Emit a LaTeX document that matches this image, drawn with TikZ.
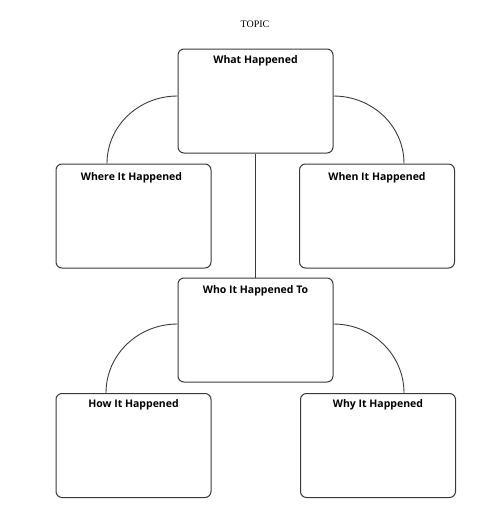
\documentclass[tikz,border=0pt]{standalone}
\usepackage{fontspec}
\setmainfont{Liberation Serif}
\newfontfamily\titlefont{Open Sans}
\definecolor{linegray}{HTML}{3A3A3A}
\begin{document}
\begin{tikzpicture}[x=1pt,y=-1pt,
  box/.style={draw=linegray,line width=1pt,rounded corners=6pt,
    minimum width=155pt,minimum height=104pt,inner sep=0pt},
  boxtitle/.style={font=\titlefont\bfseries\fontsize{10.5}{12}\selectfont,
    text=black,inner sep=0pt,anchor=base},
  conn/.style={draw=linegray,line width=0.9pt}]
\useasboundingbox (0,0) rectangle (503,520);
\node[font=\fontsize{10}{12}\selectfont,inner sep=0pt] (topic) at (255,24) {TOPIC};
\node[box] (what)  at (255.5,101) {};
\node[box] (where) at (133.5,216) {};
\node[box] (when)  at (377,216) {};
\node[box] (who)   at (255.5,330) {};
\node[box] (how)   at (133.5,445.5) {};
\node[box] (why)   at (378,445.5) {};
\node[boxtitle] (whatT)  at ([yshift=-15pt]what.north)  {What Happened};
\node[boxtitle] (whereT) at ([yshift=-17pt,xshift=-2pt]where.north) {Where It Happened};
\node[boxtitle] (whenT)  at ([yshift=-17pt]when.north)  {When It Happened};
\node[boxtitle] (whoT)   at ([yshift=-16pt]who.north)   {Who It Happened To};
\node[boxtitle] (howT)   at ([yshift=-14pt]how.north)   {How It Happened};
\node[boxtitle] (whyT)   at ([yshift=-14pt]why.north)   {Why It Happened};
\draw[conn] ([yshift=5pt]what.west) to[out=180,in=90] ([xshift=-26.5pt]where.north);
\draw[conn] ([yshift=5pt]what.east) to[out=0,in=90] ([xshift=27pt]when.north);
\draw[conn] (what.south) -- (who.north);
\draw[conn] ([yshift=6pt]who.west) to[out=180,in=90] ([xshift=-27.5pt]how.north);
\draw[conn] ([yshift=6pt]who.east) to[out=0,in=90] ([xshift=26pt]why.north);
\end{tikzpicture}
\end{document}
